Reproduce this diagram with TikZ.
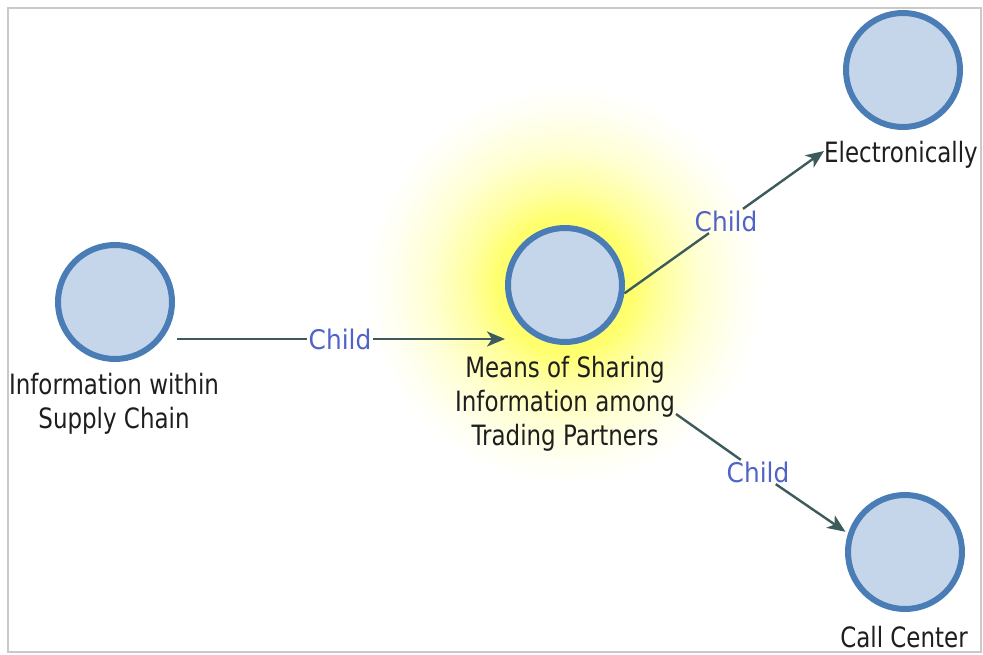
\documentclass[tikz,border=0pt]{standalone}
\usepackage{fontspec}
\setmainfont{DejaVu Sans}[FakeStretch=0.82]
\newfontfamily\edgefont{DejaVu Sans}[FakeStretch=0.92]
\usetikzlibrary{arrows.meta}

\definecolor{vfill}{HTML}{C5D6EA}
\definecolor{vline}{HTML}{4A7DB6}
\definecolor{edgec}{HTML}{3D5B5B}
\definecolor{labc}{HTML}{5063C9}
\definecolor{txtc}{HTML}{1E1E1E}
\definecolor{framec}{HTML}{C9C9C9}
\definecolor{glowc}{HTML}{FFFF6E}

% soft highlight behind the selected vertex (25bp = radius of the shaded circle)
\pgfdeclareradialshading{glow}{\pgfpoint{0bp}{0bp}}{%
  color(0bp)=(glowc); color(8.5bp)=(glowc);
  color(12bp)=(glowc!65!white); color(17bp)=(glowc!30!white);
  color(22bp)=(glowc!8!white); color(25bp)=(white); color(50bp)=(white)}

\tikzset{
  vertex/.style={circle, draw=vline, fill=vfill, line width=6pt,
    minimum size=114pt, inner sep=0pt},
  caption/.style={text=txtc, align=center, inner sep=0pt,
    font=\fontsize{28}{34}\selectfont},
  rel/.style={text=labc, inner sep=1.5pt,
    font=\edgefont\fontsize{27}{32}\selectfont},
  edge/.style={draw=edgec, line width=2.4pt},
  arrowedge/.style={edge, -{Stealth[length=18pt, width=15pt, inset=5pt]}}
}

\begin{document}
\begin{tikzpicture}[x=1pt, y=-1pt]
  \useasboundingbox (0,0) rectangle (983,654);
  \fill[white] (0,0) rectangle (983,654);

  % highlight
  \shade[shading=glow] (565,285) circle (200);

  % frame
  \draw[framec, line width=1.5pt] (8,8) rectangle (981,652);

  % vertices
  \node[vertex] (A) at (115,302) {};
  \node[vertex] (B) at (565,285) {};
  \node[vertex] (C) at (903,70) {};
  \node[vertex] (D) at (905,552) {};

  % vertex captions
  \node[caption] (Al) at (114,404) {Information within\\Supply Chain};
  \node[caption] (Bl) at (565,404) {Means of Sharing\\Information among\\Trading Partners};
  \node[caption] (Cl) at (901,155) {Electronically};
  \node[caption] (Dl) at (904,637) {Call Center};

  % relation labels
  \node[rel] (r1) at (340,339) {Child};
  \node[rel] (r2) at (726,221) {Child};
  \node[rel] (r3) at (758,472) {Child};

  % connectors
  \coordinate (ab) at ([shift={(2,37)}]A.east);
  \draw[edge] (ab) -- (r1);
  \draw[arrowedge] (r1) -- (r1 -| B.west);

  \draw[edge] (B.-8) -- (r2);
  \draw[arrowedge] (r2) -- ([yshift=4pt]Cl.west);

  \coordinate (bd) at (676,414);
  \draw[edge] (bd) -- (r3);
  \draw[arrowedge, shorten >=3pt] (r3) -- (D.162);
\end{tikzpicture}
\end{document}
